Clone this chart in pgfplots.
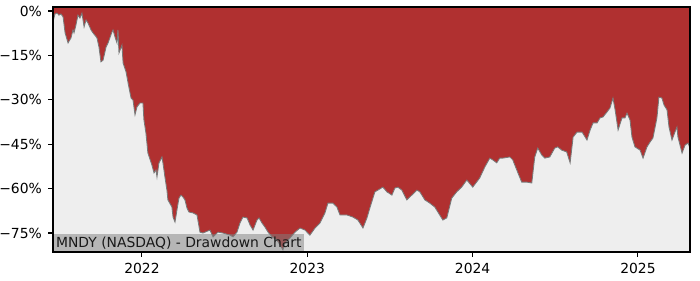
\documentclass[border=0pt]{standalone}
\usepackage{pgfplots}
\pgfplotsset{compat=1.18}
\usepackage{pgfplotstable}
\usepackage{fontspec}
\setmainfont{DejaVu Sans}
\definecolor{ddred}{RGB}{176,48,48}
\definecolor{ddbg}{RGB}{238,238,238}
\definecolor{ddline}{RGB}{120,120,120}
\pgfplotstableread{
year dd
2021.462 -3.7
2021.474 -1.0
2021.486 -0.7
2021.498 -1.4
2021.510 -1.0
2021.523 -2.0
2021.535 -7.4
2021.553 -10.8
2021.571 -9.1
2021.583 -6.4
2021.589 -7.4
2021.601 -4.7
2021.613 -1.4
2021.625 -2.4
2021.637 -0.7
2021.650 -5.4
2021.662 -3.0
2021.674 -4.1
2021.692 -6.4
2021.704 -7.4
2021.728 -9.1
2021.740 -12.2
2021.752 -17.2
2021.765 -16.6
2021.783 -12.2
2021.795 -10.8
2021.819 -7.1
2021.825 -6.4
2021.837 -8.8
2021.849 -10.8
2021.855 -6.4
2021.861 -14.2
2021.879 -11.5
2021.886 -17.6
2021.904 -20.6
2021.916 -24.3
2021.934 -29.4
2021.946 -30.1
2021.958 -35.1
2021.970 -32.4
2021.988 -31.1
2022.006 -31.1
2022.012 -36.8
2022.024 -41.2
2022.036 -48.0
2022.060 -52.0
2022.073 -54.7
2022.085 -53.7
2022.091 -56.1
2022.103 -51.3
2022.121 -49.3
2022.127 -51.3
2022.139 -56.1
2022.151 -60.5
2022.157 -63.8
2022.181 -66.2
2022.188 -69.6
2022.200 -71.3
2022.212 -67.2
2022.224 -63.2
2022.236 -62.2
2022.248 -62.8
2022.260 -63.8
2022.272 -66.5
2022.284 -67.9
2022.309 -68.2
2022.333 -68.9
2022.351 -74.7
2022.369 -75.0
2022.411 -74.0
2022.430 -76.3
2022.460 -74.7
2022.490 -75.0
2022.533 -75.7
2022.551 -76.3
2022.575 -74.7
2022.593 -71.6
2022.611 -69.6
2022.636 -69.9
2022.654 -72.3
2022.672 -74.0
2022.696 -70.6
2022.708 -69.9
2022.726 -71.6
2022.744 -73.0
2022.763 -74.7
2022.787 -76.3
2022.817 -77.4
2022.853 -80.7
2022.865 -78.4
2022.895 -76.7
2022.926 -74.7
2022.956 -73.3
2022.986 -74.0
2023.016 -75.7
2023.047 -73.3
2023.077 -71.6
2023.107 -68.2
2023.125 -64.9
2023.155 -64.9
2023.179 -66.2
2023.198 -68.9
2023.240 -68.9
2023.276 -69.6
2023.306 -70.6
2023.337 -73.3
2023.361 -69.9
2023.379 -66.5
2023.409 -61.1
2023.439 -60.1
2023.457 -59.5
2023.482 -61.1
2023.512 -62.2
2023.530 -59.8
2023.548 -59.5
2023.572 -60.5
2023.602 -63.8
2023.632 -62.2
2023.663 -60.5
2023.681 -61.1
2023.711 -63.8
2023.741 -64.9
2023.771 -66.2
2023.801 -68.9
2023.820 -70.6
2023.844 -69.9
2023.874 -63.2
2023.904 -61.1
2023.934 -59.5
2023.965 -57.1
2024.001 -59.5
2024.043 -56.4
2024.074 -52.7
2024.104 -49.7
2024.122 -50.3
2024.146 -51.3
2024.164 -49.7
2024.182 -49.7
2024.225 -49.3
2024.243 -50.3
2024.267 -53.7
2024.297 -57.8
2024.327 -57.8
2024.358 -58.1
2024.376 -49.3
2024.394 -46.3
2024.418 -48.6
2024.437 -49.7
2024.467 -49.3
2024.497 -46.3
2024.515 -45.9
2024.539 -47.0
2024.569 -47.6
2024.590 -51.3
2024.608 -42.6
2024.632 -40.9
2024.662 -40.9
2024.692 -43.6
2024.711 -40.2
2024.729 -37.8
2024.753 -37.8
2024.771 -36.1
2024.789 -35.8
2024.813 -34.1
2024.831 -32.8
2024.849 -29.4
2024.862 -33.4
2024.880 -40.2
2024.904 -36.1
2024.922 -36.1
2024.934 -34.5
2024.952 -36.8
2024.964 -42.6
2024.982 -45.9
2025.013 -47.0
2025.031 -49.7
2025.055 -45.9
2025.073 -44.3
2025.091 -42.9
2025.115 -36.1
2025.127 -29.1
2025.145 -29.4
2025.158 -31.8
2025.176 -33.4
2025.188 -39.2
2025.206 -43.6
2025.224 -40.9
2025.236 -39.2
2025.242 -42.6
2025.267 -48.0
2025.285 -45.3
2025.303 -44.6
2025.315 -46.3
}\ddtable
\begin{document}
\begin{tikzpicture}
\useasboundingbox (-38.16pt,-20.16pt) rectangle (465.84pt,181.44pt);
\begin{axis}[
  at={(0,0)}, anchor=south west,
  scale only axis, width=458.64pt, height=176.4pt,
  xmin=2021.462, xmax=2025.315, ymin=-81.4, ymax=1.35,
  axis background/.style={fill=ddred},
  axis line style={black, line width=0.8pt},
  xtick={2022,2023,2024,2025},
  xticklabels={2022,2023,2024,2025},
  ytick={-75,-60,-45,-30,-15,0},
  yticklabels={−75\%,−60\%,−45\%,−30\%,−15\%,0\%},
  tick align=outside, tick pos=left,
  major tick length=3.5pt,
  tick style={black, line width=0.8pt},
  ticklabel style={font=\fontsize{10}{12}\selectfont},
  xticklabel style={yshift=-1pt},
  yticklabel style={xshift=-1pt},
  axis on top,
  clip=true,
]
\addplot[fill=ddbg, draw=none] table[x=year, y=dd] {\ddtable}
  -- (axis cs:2025.315,-81.4) -- (axis cs:2021.462,-81.4) -- cycle;
\addplot[draw=ddline, line width=0.6pt] table[x=year, y=dd] {\ddtable};
\node[anchor=south west, inner sep=2pt, fill=gray, fill opacity=0.5, text opacity=1, text=black!90, font=\fontsize{10}{12}\selectfont] at (rel axis cs:0,0) {MNDY (NASDAQ) - Drawdown Chart};
\end{axis}
\end{tikzpicture}
\end{document}
